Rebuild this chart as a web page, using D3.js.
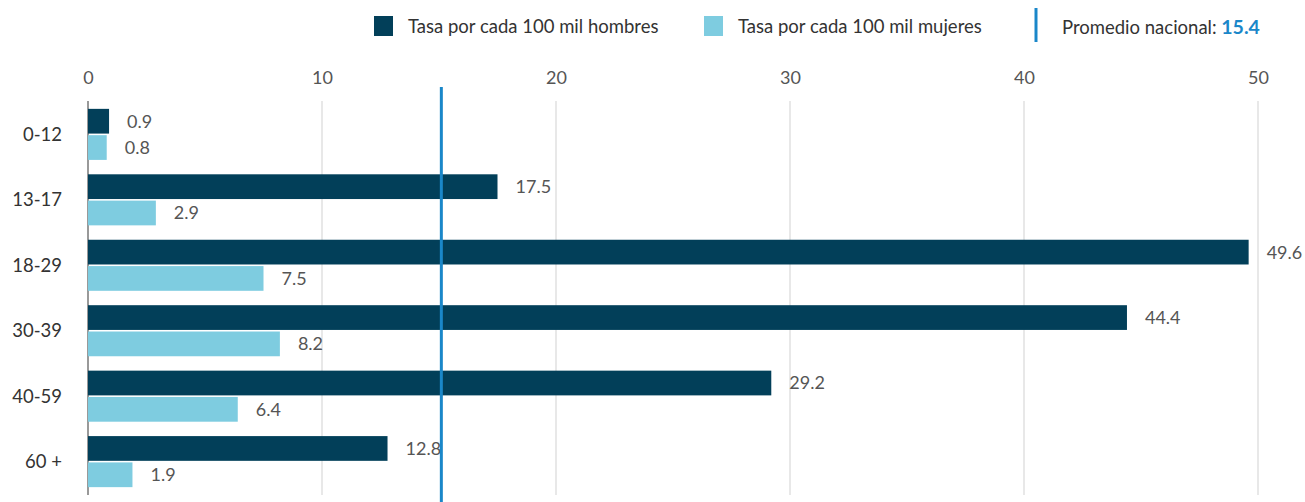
<!DOCTYPE html>
<html>
<head>
<meta charset="utf-8">
<script src="https://cdn.jsdelivr.net/npm/d3@7"></script>
<style>
  body { margin: 0; background: #fff; font-family: Lato, "Open Sans", sans-serif; }
  svg text { font-family: Lato, "Open Sans", sans-serif; }
</style>
</head>
<body>
<div id="chart"></div>
<script>
// data
let ageGroups = ['0-12', '13-17', '18-29', '30-39', '40-59', '60 +'];
let menRates = [0.9, 17.5, 49.6, 44.4, 29.2, 12.8];
let womenRates = [0.8, 2.9, 7.5, 8.2, 6.4, 1.9];
let xTicks = [0, 10, 20, 30, 40, 50];
let seriesNames = ['Tasa por cada 100 mil hombres', 'Tasa por cada 100 mil mujeres'];
let nationalAvg = 15.4;      // value in the label
let nationalAvgLine = 15.1;  // where the line sits in the picture

// svg definitions
let svgWidth = 1305;
let svgHeight = 502;

let colors = ['#023f59', '#7ecce0'];
let avgColor = '#1a87c9';

let svg = d3.select('#chart')
  .append('svg')
  .attr('width', svgWidth)
  .attr('height', svgHeight);

// scales
let xScale = d3.scaleLinear()
  .domain([0, 50])
  .range([88, 1258]);

let yScale = d3.scaleBand()
  .domain(ageGroups)
  .range([101, 495])
  .paddingInner(0.22)
  .paddingOuter(0.12);

let innerScale = d3.scaleBand()
  .domain([0, 1])
  .range([0, yScale.bandwidth()])
  .paddingInner(0.06);

// gridlines
svg.append('g')
  .selectAll('line')
  .data(xTicks.filter(t => t > 0))
  .enter()
  .append('line')
  .attr('x1', d => xScale(d))
  .attr('x2', d => xScale(d))
  .attr('y1', 101)
  .attr('y2', 495)
  .attr('stroke', '#e0e0e0')
  .attr('stroke-width', 1.5);

// top axis labels
let topAxis = d3.axisTop(xScale)
  .tickValues(xTicks)
  .tickSize(0)
  .tickPadding(0);

let xAxis = svg.append('g')
  .attr('transform', 'translate(0, 84)')
  .call(topAxis);
xAxis.select('.domain').remove();
xAxis.selectAll('text')
  .attr('font-size', '18px')
  .attr('fill', '#555');

// zero line
svg.append('line')
  .attr('x1', xScale(0))
  .attr('x2', xScale(0))
  .attr('y1', 101)
  .attr('y2', 495)
  .attr('stroke', '#999')
  .attr('stroke-width', 2);

// bars per group
let rows = ageGroups.map((g, i) => ({ group: g, values: [menRates[i], womenRates[i]] }));

let groups = svg.selectAll('.group')
  .data(rows)
  .enter()
  .append('g')
  .attr('transform', d => `translate(0, ${yScale(d.group)})`);

groups.selectAll('rect')
  .data(d => d.values)
  .enter()
  .append('rect')
  .attr('x', xScale(0))
  .attr('y', (d, i) => innerScale(i))
  .attr('width', d => xScale(d) - xScale(0))
  .attr('height', innerScale.bandwidth())
  .attr('fill', (d, i) => colors[i]);

groups.selectAll('.valueLabel')
  .data(d => d.values)
  .enter()
  .append('text')
  .attr('x', d => xScale(d) + 18)
  .attr('y', (d, i) => innerScale(i) + innerScale.bandwidth() / 2)
  .attr('dy', '0.36em')
  .attr('font-size', '18px')
  .attr('fill', '#555')
  .text(d => d.toFixed(1));

// category labels
svg.append('g')
  .selectAll('text')
  .data(ageGroups)
  .enter()
  .append('text')
  .attr('x', 62)
  .attr('y', d => yScale(d) + yScale.bandwidth() / 2)
  .attr('dy', '0.36em')
  .attr('text-anchor', 'end')
  .attr('font-size', '18.5px')
  .attr('fill', '#333')
  .text(d => d);

// national average line
svg.append('line')
  .attr('x1', xScale(nationalAvgLine))
  .attr('x2', xScale(nationalAvgLine))
  .attr('y1', 87)
  .attr('y2', svgHeight)
  .attr('stroke', avgColor)
  .attr('stroke-width', 3);

// legend
let legend = svg.append('g');
let legendX = [374, 704];
seriesNames.forEach((name, i) => {
  legend.append('rect')
    .attr('x', legendX[i])
    .attr('y', 16)
    .attr('width', 19)
    .attr('height', 20)
    .attr('fill', colors[i]);
  legend.append('text')
    .attr('x', legendX[i] + 34)
    .attr('y', 26)
    .attr('dy', '0.36em')
    .attr('font-size', '18.5px')
    .attr('fill', '#333')
    .text(name);
});

legend.append('line')
  .attr('x1', 1036)
  .attr('x2', 1036)
  .attr('y1', 8)
  .attr('y2', 42)
  .attr('stroke', avgColor)
  .attr('stroke-width', 3);

let avgText = legend.append('text')
  .attr('x', 1062)
  .attr('y', 27)
  .attr('dy', '0.36em')
  .attr('font-size', '18.5px')
  .attr('fill', '#333');
avgText.append('tspan').text('Promedio nacional: ');
avgText.append('tspan')
  .attr('fill', avgColor)
  .attr('font-weight', 'bold')
  .attr('font-size', '19.5px')
  .text(nationalAvg);
</script>
</body>
</html>
